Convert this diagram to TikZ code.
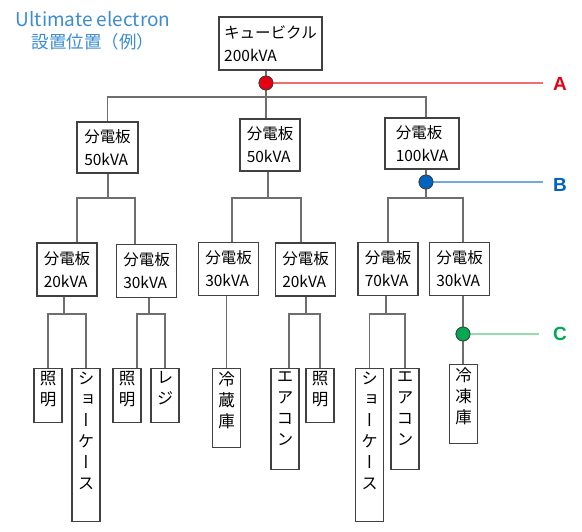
\documentclass[tikz,border=0pt]{standalone}
\usepackage{fontspec}
\setmainfont{Noto Sans CJK JP}
\newfontfamily\tatefont[RawFeature=+vert]{Noto Sans CJK JP}
\newfontfamily\labfont{Liberation Sans}
\definecolor{wiregray} {RGB}{110,110,110}
\definecolor{boxgray}  {RGB}{ 65, 65, 65}
\definecolor{titleblue}{RGB}{ 60,140,210}
\definecolor{pointA}   {RGB}{230,  0, 18}
\definecolor{lineA}    {RGB}{240,110,110}
\definecolor{pointB}   {RGB}{  0,100,190}
\definecolor{lineB}    {RGB}{110,170,220}
\definecolor{pointC}   {RGB}{  0,170, 80}
\definecolor{lineC}    {RGB}{150,220,170}
% vertical label: total height, characters separated by \\
\newcommand{\tate}[2]{\parbox[c][#1pt][t]{28pt}{\centering\tatefont
	\fontsize{16.5}{21}\selectfont\vspace*{3pt}#2}}
\tikzset{
	panel/.style={draw=boxgray, line width=1.1pt, fill=white, inner sep=0pt,
		align=left, font=\fontsize{15.5}{23}\selectfont},
	leaf/.style={draw=boxgray, line width=1.1pt, fill=white, inner sep=0pt, anchor=north},
	wire/.style={draw=wiregray, line width=1.6pt},
	point/.style={circle, draw=black!75, line width=0.8pt, minimum size=14pt, inner sep=0pt},
	mark label/.style={font=\labfont\bfseries\fontsize{19}{19}\selectfont, inner xsep=10pt}
}

\begin{document}
\begin{tikzpicture}[x=1pt, y=-1pt]
	\useasboundingbox (0,0) rectangle (582,532);
	\node[align=center, text=titleblue, font=\fontsize{17.5}{22}\selectfont] (title) at (93,31)
		{{\fontsize{19}{22}\selectfont Ultimate electron}\\設置位置（例）};

	% cubicle and main panels
	\node[panel, minimum width=103pt, minimum height=53pt] (cub) at (270.5,43.5) {キュービクル\\200kVA};
	\node[panel, minimum width=61pt, minimum height=51pt] (p50a) at (107.5,147.5) {分電板\\50kVA};
	\node[panel, minimum width=60pt, minimum height=52pt] (p50b) at (270,145) {分電板\\50kVA};
	\node[panel, minimum width=74pt, minimum height=51pt] (p100) at (422,143.5) {分電板\\100kVA};

	% sub panels
	\node[panel, minimum width=60pt, minimum height=53pt] (p20a) at (67,269.5) {分電板\\20kVA};
	\node[panel, minimum width=60pt, minimum height=53pt] (p30a) at (146.5,271) {分電板\\30kVA};
	\node[panel, minimum width=60pt, minimum height=53pt] (p30b) at (228.5,269) {分電板\\30kVA};
	\node[panel, minimum width=60pt, minimum height=53pt] (p20b) at (305.5,269.5) {分電板\\20kVA};
	\node[panel, minimum width=60pt, minimum height=53pt] (p70) at (388,269) {分電板\\70kVA};
	\node[panel, minimum width=60pt, minimum height=53pt] (p30c) at (459.5,269) {分電板\\30kVA};

	% loads
	\node[leaf] (l1) at (48,368) {\tate{54}{照\\明}};
	\node[leaf] (l2) at (86,368) {\tate{153}{シ\\ョ\\ー\\ケ\\ー\\ス}};
	\node[leaf] (l3) at (127,368) {\tate{54}{照\\明}};
	\node[leaf] (l4) at (165,368) {\tate{54}{レ\\ジ}};
	\node[leaf] (l5) at (226.5,368) {\tate{79}{冷\\蔵\\庫}};
	\node[leaf] (l6) at (285,368) {\tate{101}{エ\\ア\\コ\\ン}};
	\node[leaf] (l7) at (320,368) {\tate{54}{照\\明}};
	\node[leaf] (l8) at (369.5,368) {\tate{153}{シ\\ョ\\ー\\ケ\\ー\\ス}};
	\node[leaf] (l9) at (405,368) {\tate{101}{エ\\ア\\コ\\ン}};
	\node[leaf] (l10) at (463.5,364) {\tate{79}{冷\\凍\\庫}};

	% measuring points
	\node[point, fill=pointA] (dotA) at (266,83) {};
	\node[point, fill=pointB] (dotB) at (426,182) {};
	\node[point, fill=pointC] (dotC) at (463,334) {};
	\node[mark label, text=pointA] (labA) at (560,84) {A};
	\node[mark label, text=pointB] (labB) at (560,185) {B};
	\node[mark label, text=pointC] (labC) at (560,334) {C};

	% junctions
	\coordinate (jTop) at (266,97);
	\coordinate (jL) at (108,198);
	\coordinate (jM) at (268,198);
	\coordinate (jR) at (426,198);
	\coordinate (j20a) at (64,314);
	\coordinate (j30a) at (149,314);
	\coordinate (j20b) at (306,314);
	\coordinate (j70) at (386,314);

	\draw[lineA, line width=1.5pt] (dotA) -- (labA.west |- dotA);
	\draw[lineB, line width=1.5pt] (dotB) -- (labB.west |- dotB);
	\draw[lineC, line width=1.5pt] (dotC) -- ([xshift=-4pt]labC.west);

	% feeders
	\draw[wire] (cub.south -| dotA) -- (dotA) -- (jTop);
	\draw[wire] (p50a.north) |- (jTop) -| ([xshift=4pt]p100.north);
	\draw[wire] (jTop) -- (jTop |- p50b.north);

	\draw[wire] (p50a.south -| jL) -- (jL);
	\draw[wire] ([xshift=10pt]p20a.north) |- (jL) -| ([xshift=-11.5pt]p30a.north);
	\draw[wire] (p50b.south -| jM) -- (jM);
	\draw[wire] ([xshift=3.5pt]p30b.north) |- (jM) -| ([xshift=-4.5pt]p20b.north);
	\draw[wire] (p100.south -| jR) -- (dotB) -- (jR);
	\draw[wire] (p70.north) |- (jR) -| ([xshift=3.5pt]p30c.north);

	\draw[wire] (p20a.south -| j20a) -- (j20a);
	\draw[wire] (l1.north) |- (j20a) -| (l2.north);
	\draw[wire] (p30a.south -| j30a) -- (j30a);
	\draw[wire] ([xshift=10pt]l3.north) |- (j30a) -| (l4.north);
	\draw[wire] (p30b.south -| l5.north) -- (l5.north);
	\draw[wire] (p20b.south -| j20b) -- (j20b);
	\draw[wire] ([xshift=4pt]l6.north) |- (j20b) -| (l7.north);
	\draw[wire] (p70.south -| j70) -- (j70);
	\draw[wire] (l8.north) |- (j70) -| (l9.north);
	\draw[wire] (p30c.south -| dotC) -- (dotC) -- (dotC |- l10.north);

	% redraw points over the wires
	\node[point, fill=pointA] at (dotA) {};
	\node[point, fill=pointB] at (dotB) {};
	\node[point, fill=pointC] at (dotC) {};
\end{tikzpicture}
\end{document}
